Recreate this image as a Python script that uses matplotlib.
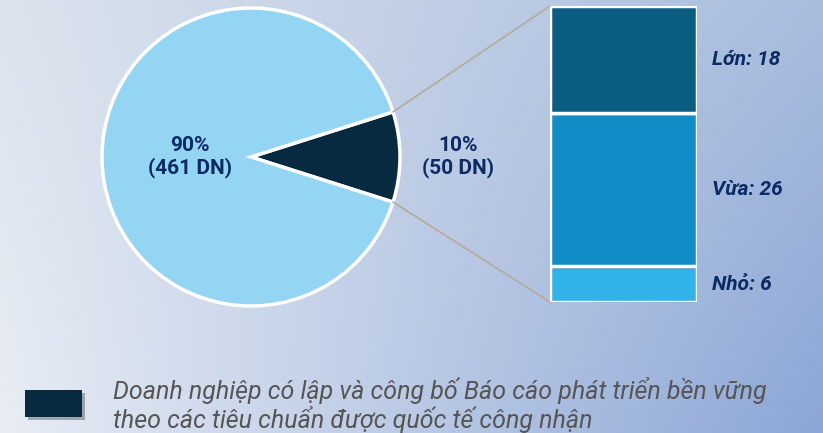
import numpy as np
import matplotlib.pyplot as plt
from matplotlib.patches import ConnectionPatch, Rectangle
import matplotlib.patheffects as pe

# data
pie_labels = ['Có lập BCPTBV', 'Khác']
pie_counts = [50, 461]
pie_colors = ['#082a40', '#94d5f3']

bar_labels = ['Nhỏ', 'Vừa', 'Lớn']
bar_values = [6, 26, 18]
bar_colors = ['#31b2e8', '#128cc6', '#0b5e82']

legend_text = ('Doanh nghiệp có lập và công bố Báo cáo phát triển bền vững\n'
               'theo các tiêu chuẩn được quốc tế công nhận')

W, H = 823, 433
navy = '#0c2a63'
plt.rcParams['font.family'] = ['Roboto', 'DejaVu Sans']

fig = plt.figure(figsize=(W / 100, H / 100), dpi=100)


def px_axes(x0, y0, x1, y1):
    # pixel box (top-left origin) -> figure axes
    return fig.add_axes([x0 / W, 1 - y1 / H, (x1 - x0) / W, (y1 - y0) / H])


# background gradient
bg = fig.add_axes([0, 0, 1, 1])
corners = np.array([[[0.86, 0.89, 0.93], [0.66, 0.74, 0.87]],
                    [[0.91, 0.93, 0.96], [0.55, 0.65, 0.84]]])
ny, nx = 60, 120
u = np.linspace(0, 1, nx)[None, :, None]
v = np.linspace(0, 1, ny)[:, None, None]
img = (corners[0, 0] * (1 - u) * (1 - v) + corners[0, 1] * u * (1 - v)
       + corners[1, 0] * (1 - u) * v + corners[1, 1] * u * v)
bg.imshow(img, aspect='auto', extent=[0, 1, 0, 1], interpolation='bilinear')
bg.axis('off')

# pie
ax_pie = px_axes(102, 8, 400, 306)
total = sum(pie_counts)
half = 360 * pie_counts[0] / total / 2
wedges, _ = ax_pie.pie(pie_counts, colors=pie_colors, startangle=-half,
                       wedgeprops=dict(edgecolor='white', linewidth=2.5))
ax_pie.set_xlim(-1, 1)
ax_pie.set_ylim(-1, 1)
ax_pie.set_aspect('auto')
ax_pie.axis('off')

dists = [1.39, 0.41]
for w, cnt, d in zip(wedges, pie_counts, dists):
    ang = np.deg2rad((w.theta1 + w.theta2) / 2)
    ax_pie.text(d * np.cos(ang), d * np.sin(ang),
                f'{cnt / total * 100:.0f}%\n({cnt} DN)',
                ha='center', va='center', fontsize=15, fontweight='bold',
                color=navy, linespacing=1.2)

# bar of pie
ax_bar = px_axes(550, 6, 697, 302)
bottom = 0
for lab, val, col in zip(bar_labels, bar_values, bar_colors):
    ax_bar.bar(0, val, bottom=bottom, width=1, color=col, edgecolor='white',
               linewidth=2.5)
    ax_bar.text(1.1, bottom + val / 2, f'{lab}: {val}',
                transform=ax_bar.get_yaxis_transform(), ha='left', va='center',
                fontsize=15, fontweight='bold', fontstyle='italic', color=navy)
    bottom += val
ax_bar.set_xlim(-0.5, 0.5)
ax_bar.set_ylim(0, sum(bar_values))
ax_bar.axis('off')
for p in ax_bar.patches:
    p.set_path_effects([pe.SimplePatchShadow(offset=(2, -2), alpha=0.25), pe.Normal()])

# connector lines
w0 = wedges[0]
for ang, yb in [(w0.theta2, sum(bar_values)), (w0.theta1, 0)]:
    a = np.deg2rad(ang)
    con = ConnectionPatch(xyA=(np.cos(a), np.sin(a)), coordsA=ax_pie.transData,
                          xyB=(-0.5, yb), coordsB=ax_bar.transData,
                          color='#b3aa9e', linewidth=1.2)
    fig.add_artist(con)

# legend
sq = Rectangle((25 / W, 1 - 417 / H), 57 / W, 27 / H, transform=fig.transFigure,
               facecolor=pie_colors[0], edgecolor='none')
sq.set_path_effects([pe.SimplePatchShadow(offset=(2, -2), alpha=0.3), pe.Normal()])
fig.add_artist(sq)
fig.text(113 / W, 1 - 405 / H, legend_text, ha='left', va='center',
         fontsize=18, fontstyle='italic', color='#555555', linespacing=1.1)

fig.savefig('out.png', dpi=100)
